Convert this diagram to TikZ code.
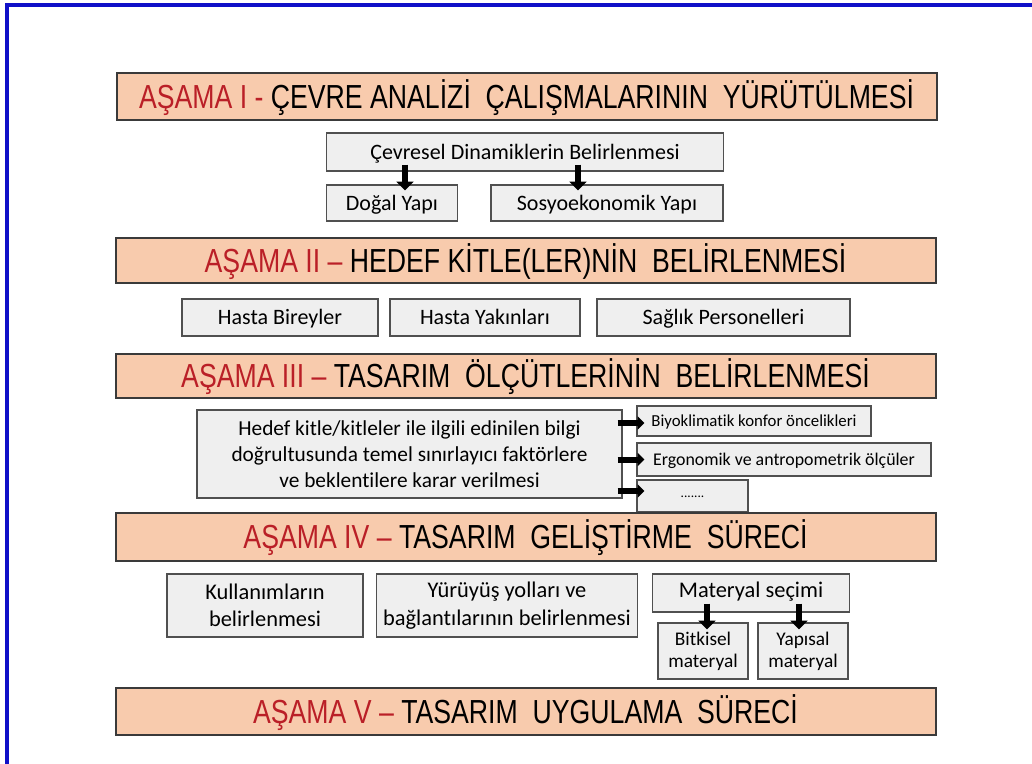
\documentclass[tikz,border=0pt]{standalone}
\usepackage{fontspec}
\setmainfont{Carlito}[Ligatures=NoCommon]
\newfontfamily\titlefont[FakeStretch=0.80]{Liberation Sans}
\usetikzlibrary{arrows.meta,calc}
\definecolor{phasefill}{HTML}{F8CBAD}
\definecolor{phaseline}{HTML}{3A3A3A}
\definecolor{boxfill}{HTML}{EFEFEF}
\definecolor{boxline}{HTML}{505050}
\definecolor{phasered}{HTML}{BA1F27}
\definecolor{framecol}{HTML}{1010C8}
\newcommand{\pxu}{0.75pt}
\newcommand{\red}[1]{\textcolor{phasered}{#1}}
\tikzset{
  phase/.style={draw=phaseline, line width=1.5pt, fill=phasefill, inner sep=0pt,
    font=\titlefont\fontsize{25}{28}\selectfont, text=black,
    text height=17.9pt, text depth=0pt, minimum width=820*\pxu},
  gbox/.style={draw=boxline, line width=0.9pt, fill=boxfill, inner sep=0pt,
    align=center, font=\fontsize{16.5}{20}\selectfont},
  oneline/.style={font=\fontsize{#1}{#1}\selectfont, text height={0.64*#1pt}, text depth=0pt},
  bigarrow/.style={line width=5pt, -{Triangle[width=12.5pt,length=6.5pt]}},
  harrow/.style={line width=4.5pt, -{Triangle[width=9.5pt,length=5pt]}}
}
\begin{document}
\begin{tikzpicture}[x=0.75pt,y=-0.75pt]
\useasboundingbox (0,0) rectangle (1032,764);
% frame
\draw[framecol, line width=2.4pt] (7,764) -- (7,5) -- (1032,5);

% Phase I
\node[phase, minimum height=47*\pxu] (p1) at (526.5,96.5)
  {\red{AŞAMA I -} ÇEVRE ANALİZİ\ \ ÇALIŞMALARININ\ \ YÜRÜTÜLMESİ};
\node[gbox, oneline=16.5, minimum width=397*\pxu, minimum height=38*\pxu] (cev) at (525,152) {Çevresel Dinamiklerin Belirlenmesi};
\node[gbox, oneline=16.5, minimum width=131*\pxu, minimum height=36*\pxu] (dog) at (392,203) {Doğal Yapı};
\node[gbox, oneline=16.5, minimum width=232*\pxu, minimum height=36*\pxu] (sos) at (607,203) {Sosyoekonomik Yapı};
\draw[bigarrow] ($(cev.south -| dog.north)+(13,-7)$) -- ($(dog.north)+(13,6)$);
\draw[bigarrow] ($(cev.south -| sos.north)+(-29,-7)$) -- ($(sos.north)+(-29,6)$);

% Phase II
\node[phase, minimum height=45*\pxu] (p2) at (525.5,260.5)
  {\red{AŞAMA II –} HEDEF KİTLE(LER)NİN\ \ BELİRLENMESİ};
\node[gbox, oneline=16.5, minimum width=196*\pxu, minimum height=37*\pxu] (hb) at (280,317.5) {Hasta Bireyler};
\node[gbox, oneline=16.5, minimum width=190*\pxu, minimum height=37*\pxu] (hy) at (485,317.5) {Hasta Yakınları};
\node[gbox, oneline=16.5, minimum width=253*\pxu, minimum height=37*\pxu] (sp) at (723.5,317.5) {Sağlık Personelleri};

% Phase III
\node[phase, minimum height=44*\pxu] (p3) at (525.5,376)
  {\red{AŞAMA III –} TASARIM\ \ ÖLÇÜTLERİNİN\ \ BELİRLENMESİ};
\node[gbox, minimum width=425*\pxu, minimum height=88*\pxu, font=\fontsize{16}{19.5}\selectfont] (hed) at (409.5,454)
  {Hedef kitle/kitleler ile ilgili edinilen bilgi\\doğrultusunda temel sınırlayıcı faktörlere\\ve beklentilere karar verilmesi};
\node[gbox, oneline=12.6, minimum width=234*\pxu, minimum height=30*\pxu] (bio) at (754,421) {Biyoklimatik konfor öncelikleri};
\node[gbox, oneline=13.4, minimum width=294*\pxu, minimum height=33*\pxu] (erg) at (784,459.5) {Ergonomik ve antropometrik ölçüler};
\node[gbox, minimum width=111*\pxu, minimum height=32*\pxu, font=\fontsize{10}{12}\selectfont] (dot) at (692.5,496) {\raisebox{-3pt}{.......}};
\draw[harrow] ($(hed.east |- bio.west)+(-5,2)$) -- ($(bio.west)+(8,2)$);
\draw[harrow] ($(hed.east |- erg.west)+(-5,0)$) -- ($(erg.west)+(8,0)$);
\draw[harrow] ($(hed.east |- dot.west)+(-5,-5)$) -- ($(dot.west)+(8,-5)$);

% Phase IV
\node[phase, minimum height=48*\pxu] (p4) at (525.5,537)
  {\red{AŞAMA IV –} TASARIM\ \ GELİŞTİRME\ \ SÜRECİ};
\node[gbox, minimum width=196*\pxu, minimum height=63*\pxu, font=\fontsize{16.8}{20.5}\selectfont] (kul) at (265,605.5) {Kullanımların\\belirlenmesi};
\node[gbox, minimum width=261*\pxu, minimum height=63*\pxu, font=\fontsize{16.8}{20.5}\selectfont] (yur) at (507,605.5) {Yürüyüş yolları ve\\bağlantılarının belirlenmesi};
\node[gbox, oneline=16.8, minimum width=197*\pxu, minimum height=38*\pxu, text depth=4.5pt] (mat) at (751,593) {Materyal seçimi};
\node[gbox, minimum width=90*\pxu, minimum height=56*\pxu, font=\fontsize{14.5}{16.5}\selectfont] (bit) at (703,651) {Bitkisel\\materyal};
\node[gbox, minimum width=90*\pxu, minimum height=56*\pxu, font=\fontsize{14.5}{16.5}\selectfont] (yap) at (803,651) {Yapısal\\materyal};
\draw[bigarrow] ($(mat.south -| bit.north)+(4,-9)$) -- ($(bit.north)+(4,7)$);
\draw[bigarrow] ($(mat.south -| yap.north)+(-4,-9)$) -- ($(yap.north)+(-4,7)$);

% Phase V
\node[phase, minimum height=47*\pxu] (p5) at (525.5,711.5)
  {\red{AŞAMA V –} TASARIM\ \ UYGULAMA\ \ SÜRECİ};
\end{tikzpicture}
\end{document}
